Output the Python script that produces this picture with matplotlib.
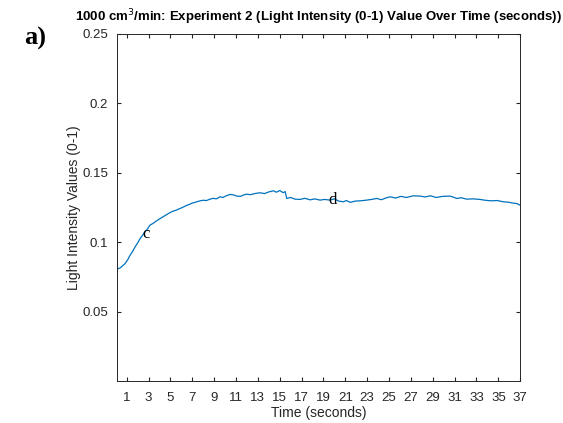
import numpy as np
import matplotlib.pyplot as plt

# time (s) and light intensity
time_s = [0.08, 0.4, 0.84, 1.1, 1.3, 1.55, 1.76, 2.0, 2.22, 2.45, 2.67, 2.9, 3.13, 3.4,
          3.7, 4.05, 4.3, 4.6, 4.96, 5.2, 5.5, 5.88, 6.1, 6.4, 6.79, 7.0, 7.3, 7.71,
          8.0, 8.3, 8.62, 8.9, 9.2, 9.54, 9.8, 10.1, 10.45, 10.8, 11.06, 11.4, 11.7,
          11.98, 12.3, 12.7, 13.2, 13.6, 14.0, 14.41, 14.7, 15.0, 15.33, 15.5, 15.64,
          16.0, 16.4, 16.86, 17.3, 17.8, 18.2, 18.69, 19.1, 19.6, 20.0, 20.4, 20.82,
          21.1, 21.45, 21.9, 22.4, 22.96, 23.4, 23.87, 24.3, 24.7, 25.09, 25.6, 26.1,
          26.6, 27.2, 27.83, 28.3, 28.8, 29.3, 29.9, 30.58, 30.9, 31.19, 31.6, 32.1,
          32.7, 33.32, 33.8, 34.3, 34.9, 35.46, 35.9, 36.3, 36.7, 36.98]
intensity = [0.0805, 0.0815, 0.0845, 0.0875, 0.0905, 0.0935, 0.0965, 0.0995, 0.1025,
             0.105, 0.1075, 0.1095, 0.1123, 0.1135, 0.1152, 0.1170, 0.1182, 0.1196,
             0.1213, 0.1222, 0.1230, 0.1243, 0.1250, 0.1262, 0.1274, 0.1282, 0.1288,
             0.1298, 0.1302, 0.1300, 0.1310, 0.1316, 0.1312, 0.1327, 0.1322, 0.1334,
             0.1344, 0.1340, 0.1332, 0.1330, 0.1340, 0.1346, 0.1342, 0.1350, 0.1356,
             0.1350, 0.1362, 0.1370, 0.1360, 0.1372, 0.1356, 0.1365, 0.1315, 0.1322,
             0.1310, 0.1308, 0.1316, 0.1305, 0.1312, 0.1303, 0.1308, 0.1303, 0.1312,
             0.1296, 0.1291, 0.1300, 0.1287, 0.1296, 0.1298, 0.1303, 0.1308, 0.1315,
             0.1306, 0.1318, 0.1327, 0.1318, 0.1330, 0.1322, 0.1334, 0.1332, 0.1326,
             0.1334, 0.1322, 0.1330, 0.1332, 0.1324, 0.1315, 0.1320, 0.1310, 0.1312,
             0.1308, 0.1302, 0.1298, 0.1300, 0.1291, 0.1288, 0.1282, 0.1278, 0.1267]

xticks = list(range(1, 38, 2))
yticks = [0.05, 0.1, 0.15, 0.2, 0.25]

plt.rcParams['font.family'] = ['Liberation Sans', 'DejaVu Sans']
fig = plt.figure(figsize=(5.63, 4.23), dpi=100)
ax = fig.add_axes([0.207, 0.099, 0.717, 0.821])

ax.plot(time_s, intensity, color='#0072BD', linewidth=0.9)
ax.set_xlim(0.07, 37)
ax.set_ylim(0, 0.25)
ax.set_xticks(xticks)
ax.set_yticks(yticks)
ax.set_yticklabels(['0.05', '0.1', '0.15', '0.2', '0.25'])
ax.tick_params(direction='in', top=True, right=True, length=3, labelsize=9.5,
               colors='#262626', labelcolor='#262626')
ax.tick_params(axis='x', pad=8)
ax.tick_params(axis='y', pad=6)
for s in ax.spines.values():
    s.set_color('#262626')
    s.set_linewidth(0.7)

ax.set_xlabel('Time (seconds)', fontsize=10, color='#262626', labelpad=1)
ax.set_ylabel('Light Intensity Values (0-1)', fontsize=10, color='#262626', labelpad=1)
ax.set_title('1000 cm$^3$/min: Experiment 2 (Light Intensity (0-1) Value Over Time (seconds))',
             fontsize=9.5, fontweight='bold', pad=9)

ax.text(2.75, 0.106, 'c', fontsize=12, family='Liberation Serif', ha='center', va='center')
ax.text(19.8, 0.1305, 'd', fontsize=12, family='Liberation Serif', ha='center', va='center')
fig.text(0.062, 0.91, 'a)', fontsize=19, fontweight='bold', family='Liberation Serif',
         ha='center', va='center')

fig.savefig('out.png', dpi=100)
